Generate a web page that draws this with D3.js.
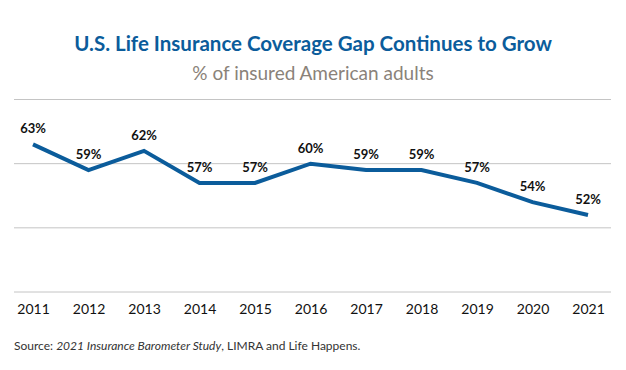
<!DOCTYPE html>
<html>
<head>
<meta charset="utf-8">
<script src="https://cdn.jsdelivr.net/npm/d3@7"></script>
<style>
  body { margin: 0; background: #fff; }
  text { font-family: "Lato", "Open Sans", sans-serif; }
</style>
</head>
<body>
<div id="chart"></div>
<script>
/* Data. */
const years = ["2011", "2012", "2013", "2014", "2015", "2016", "2017", "2018", "2019", "2020", "2021"]
const insured = [63, 59, 62, 57, 57, 60, 59, 59, 57, 54, 52]
const gridValues = [40, 50, 60, 70]

const width = 626
const height = 370

const svg = d3.select("#chart")
  .append("svg")
  .attr("width", width)
  .attr("height", height)

/* Scales. */
const x = d3.scalePoint()
  .domain(years)
  .range([33, 588])

const y = d3.scaleLinear()
  .domain([40, 70])
  .range([292, 99.5])

/* Title and subtitle. */
svg.append("text")
  .attr("x", 313)
  .attr("y", 51)
  .attr("text-anchor", "middle")
  .attr("font-size", 20.5)
  .attr("font-weight", "bold")
  .attr("fill", "#0b5c9b")
  .text("U.S. Life Insurance Coverage Gap Continues to Grow")

svg.append("text")
  .attr("x", 313)
  .attr("y", 80)
  .attr("text-anchor", "middle")
  .attr("font-size", 19)
  .attr("fill", "#8a8279")
  .text("% of insured American adults")

/* Gridlines. */
svg.append("g")
  .selectAll("line")
  .data(gridValues)
  .enter()
  .append("line")
  .attr("x1", 14)
  .attr("x2", 611)
  .attr("y1", d => y(d))
  .attr("y2", d => y(d))
  .attr("stroke", "#c4c4c4")
  .attr("stroke-width", 1)

/* Year axis, no domain line or ticks. */
const xAxis = svg.append("g")
  .attr("transform", `translate(0, ${y(40)})`)
  .call(d3.axisBottom(x).tickSize(0).tickPadding(12))

xAxis.select(".domain").remove()
xAxis.selectAll("text")
  .attr("font-size", 14)
  .attr("fill", "#111")
  .style("font-family", "Lato, 'Open Sans', sans-serif")

/* Line. */
const line = d3.line()
  .x((d, i) => x(years[i]))
  .y(d => y(d))

svg.append("path")
  .datum(insured)
  .attr("d", line)
  .attr("fill", "none")
  .attr("stroke", "#0b5c9b")
  .attr("stroke-width", 4)
  .attr("stroke-linejoin", "miter")

/* Data labels. */
svg.append("g")
  .selectAll("text")
  .data(insured)
  .enter()
  .append("text")
  .attr("x", (d, i) => x(years[i]))
  .attr("y", d => y(d) - 11)
  .attr("text-anchor", "middle")
  .attr("font-size", 13)
  .attr("font-weight", "bold")
  .attr("fill", "#111")
  .text(d => `${d}%`)

/* Source note. */
const source = svg.append("text")
  .attr("x", 14)
  .attr("y", 350)
  .attr("font-size", 12)
  .attr("fill", "#333")

source.append("tspan").text("Source: ")
source.append("tspan").attr("font-style", "italic").text("2021 Insurance Barometer Study")
source.append("tspan").text(", LIMRA and Life Happens.")
</script>
</body>
</html>
